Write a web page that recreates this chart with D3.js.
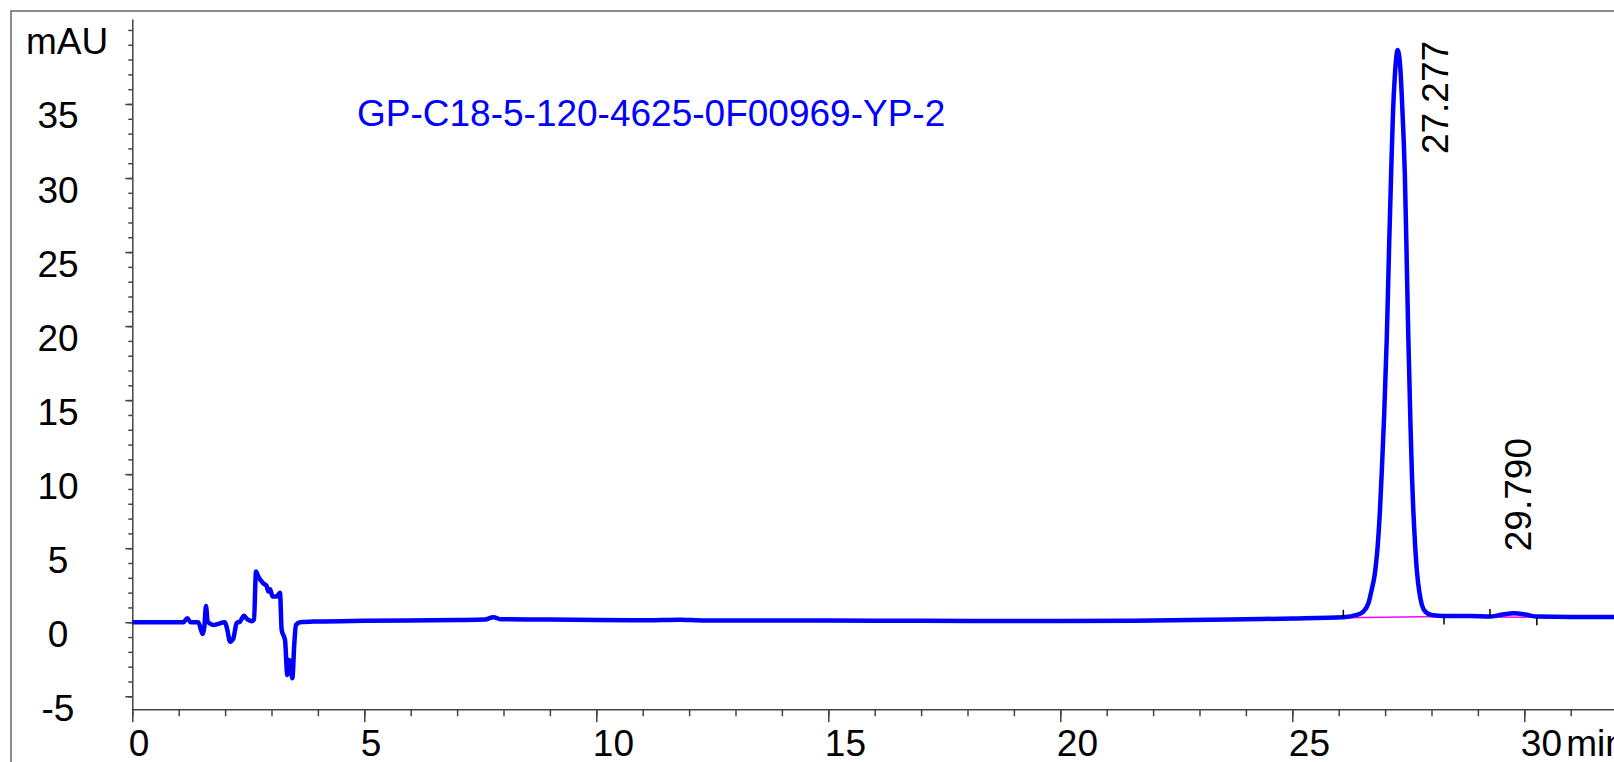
<!DOCTYPE html>
<html>
<head>
<meta charset="utf-8">
<script src="https://cdn.jsdelivr.net/npm/d3@7"></script>
<style>
  body { margin: 0; background: #fff; overflow: hidden; }
  text { font-family: "Liberation Sans", Arial, sans-serif; }
</style>
</head>
<body>
<div id="chart"></div>
<script>
// chromatogram trace (time in min, signal in mAU)
var times = [0, 1.10, 1.186, 1.258, 1.423, 1.481, 1.517, 1.553, 1.588, 1.624, 1.746, 1.998,
  2.048, 2.106, 2.177, 2.249, 2.321, 2.407, 2.479, 2.573, 2.623, 2.666, 2.716, 2.824, 2.896,
  2.932, 2.968, 3.025, 3.111, 3.183, 3.219, 3.291, 3.341, 3.377, 3.413, 3.449, 3.492, 3.528,
  3.614, 4.0, 5.0, 7.0, 7.6, 7.78, 7.95, 9.0, 10.0, 11.0, 11.8, 12.3, 13.0, 15.0, 17.0, 20.0,
  22.0, 24.0, 25.0, 26.10, 26.39, 26.53, 26.64, 26.71, 26.78, 26.85, 26.89, 26.93, 26.98,
  27.035, 27.09, 27.13, 27.17, 27.21, 27.272, 27.335, 27.37, 27.40, 27.425, 27.457, 27.50,
  27.55, 27.58, 27.61, 27.645, 27.69, 27.74, 27.79, 27.87, 28.0, 28.26, 28.83, 29.26, 29.5,
  29.78, 30.05, 30.27, 31.0, 32.0];
var mAU = [0, 0, 0.27, 0, 0, -0.52, -0.79, -0.3, 1.1, 0.04, -0.18, 0,
  -0.52, -1.31, -1.09, -0.05, 0.04, 0.43, 0.2, 0.07, 0.2, 3.42, 3.08, 2.63, 2.45,
  2.07, 2.23, 1.73, 1.73, 1.99, -0.52, -1.19, -3.56, -2.55, -3.0, -3.78, -1.42, -0.18,
  0.0, 0.05, 0.1, 0.15, 0.18, 0.34, 0.2, 0.18, 0.15, 0.13, 0.17, 0.12, 0.12, 0.11, 0.1, 0.08,
  0.12, 0.2, 0.25, 0.34, 0.49, 0.72, 1.28, 2.18, 3.3, 5.56, 7.6, 10.3, 14.0,
  19.06, 25.8, 30.3, 34.4, 36.9, 38.64, 37.07, 34.8, 32.6, 30.3, 25.8, 19.3,
  13.0, 9.8, 7.4, 5.3, 3.3, 2.0, 1.2, 0.7, 0.49, 0.42, 0.42, 0.38, 0.5,
  0.61, 0.5, 0.38, 0.35, 0.35];

// integrated peaks
var peakRT = [27.277, 29.790];
var peakTop = [38.64, 0.61];
var peakStart = [26.10, 29.26];
var peakEnd = [28.27, 30.27];
var peakStartBase = [0.30, 0.36];
var peakEndBase = [0.38, 0.34];

var sampleName = "GP-C18-5-120-4625-0F00969-YP-2";
var xMajor = [0, 5, 10, 15, 20, 25, 30];
var yMajor = [-5, 0, 5, 10, 15, 20, 25, 30, 35];

var W = 1614, H = 762;
var FS = "37px";
var svg = d3.select("#chart").append("svg")
    .attr("width", W).attr("height", H);

// outer frame
svg.append("rect")
    .attr("x", 11).attr("y", 11)
    .attr("width", W + 20).attr("height", H + 20)
    .attr("fill", "none").attr("stroke", "#666").attr("stroke-width", 1.5);

var x = d3.scaleLinear().domain([0, 32]).range([132.3, 132.3 + 32 * 46.4]);
var y = d3.scaleLinear().domain([-5.88, 40.74]).range([709.3, 19]);

// x axis: minor ticks then major ticks
svg.append("g")
    .attr("transform", "translate(0," + y.range()[0] + ")")
    .call(d3.axisBottom(x).tickValues(d3.range(0, 33, 1)).tickSize(7).tickSizeOuter(0).tickFormat(""))
    .call(g => g.selectAll("line,path").attr("stroke", "#444").attr("stroke-width", 1.5));
var xAx = svg.append("g")
    .attr("transform", "translate(0," + y.range()[0] + ")")
    .call(d3.axisBottom(x).tickValues(xMajor).tickSize(13).tickSizeOuter(0).tickFormat(d => String(d)))
    .call(g => g.select(".domain").remove());
xAx.selectAll("line").attr("stroke", "#444").attr("stroke-width", 1.5);
xAx.selectAll("text")
    .attr("text-anchor", "start")
    .attr("x", -4).attr("y", 47).attr("dy", null)
    .attr("fill", "#000").style("font-size", FS)
    .style("font-family", "'Liberation Sans', Arial, sans-serif");

svg.append("text")
    .attr("x", x(30) + 42).attr("y", y.range()[0] + 47)
    .style("font-size", FS).text("min");

// y axis
svg.append("g")
    .attr("transform", "translate(" + x(0) + ",0)")
    .call(d3.axisLeft(y).tickValues(d3.range(-5, 41, 1)).tickSize(4).tickSizeOuter(0).tickFormat(""))
    .call(g => g.selectAll("line,path").attr("stroke", "#444").attr("stroke-width", 1.5));
var yAx = svg.append("g")
    .attr("transform", "translate(" + x(0) + ",0)")
    .call(d3.axisLeft(y).tickValues(yMajor).tickSize(7).tickSizeOuter(0).tickFormat(d => String(d)))
    .call(g => g.select(".domain").remove());
yAx.selectAll("line").attr("stroke", "#444").attr("stroke-width", 1.5);
yAx.selectAll("text")
    .attr("text-anchor", "middle")
    .attr("x", 58 - x(0)).attr("dy", null).attr("y", 24)
    .attr("fill", "#000").style("font-size", FS)
    .style("font-family", "'Liberation Sans', Arial, sans-serif");

svg.append("text")
    .attr("x", 67).attr("y", y(40) + 24)
    .attr("text-anchor", "middle")
    .style("font-size", FS).text("mAU");

// sample name
svg.append("text")
    .attr("x", 357).attr("y", 126)
    .attr("fill", "#0000ff")
    .style("font-size", FS).text(sampleName);

// integration baselines
peakRT.forEach(function(rt, i) {
  svg.append("line")
      .attr("x1", x(peakStart[i])).attr("y1", y(peakStartBase[i]))
      .attr("x2", x(peakEnd[i])).attr("y2", y(peakEndBase[i]))
      .attr("stroke", "#ff00ff").attr("stroke-width", 1.5);
});

// trace
var trace = times.map(function(t, i) { return [t, mAU[i]]; });
svg.append("path")
    .datum(trace)
    .attr("fill", "none")
    .attr("stroke", "#0000ff")
    .attr("stroke-width", 4.5)
    .attr("stroke-linejoin", "round")
    .attr("d", d3.line()
      .x(d => x(d[0]))
      .y(d => y(d[1]))
      .curve(d3.curveMonotoneX));

// peak start / end markers
peakRT.forEach(function(rt, i) {
  svg.append("line")
      .attr("x1", x(peakStart[i])).attr("x2", x(peakStart[i]))
      .attr("y1", y(peakStartBase[i]) - 8).attr("y2", y(peakStartBase[i]))
      .attr("stroke", "#000").attr("stroke-width", 1.5);
  svg.append("line")
      .attr("x1", x(peakEnd[i])).attr("x2", x(peakEnd[i]))
      .attr("y1", y(peakEndBase[i])).attr("y2", y(peakEndBase[i]) + 8)
      .attr("stroke", "#000").attr("stroke-width", 1.5);
});

// retention time labels
peakRT.forEach(function(rt, i) {
  // the tall peak gets its label beside the apex, the small one above it
  var lx = i === 0 ? x(rt) + 50 : x(rt) + 16;
  var ly = i === 0 ? y(peakTop[i]) + 104 : y(peakTop[i]) - 62;
  svg.append("text")
      .attr("transform", "translate(" + lx + "," + ly + ") rotate(-90)")
      .attr("text-anchor", "start")
      .style("font-size", FS)
      .text(rt.toFixed(3));
});
</script>
</body>
</html>
